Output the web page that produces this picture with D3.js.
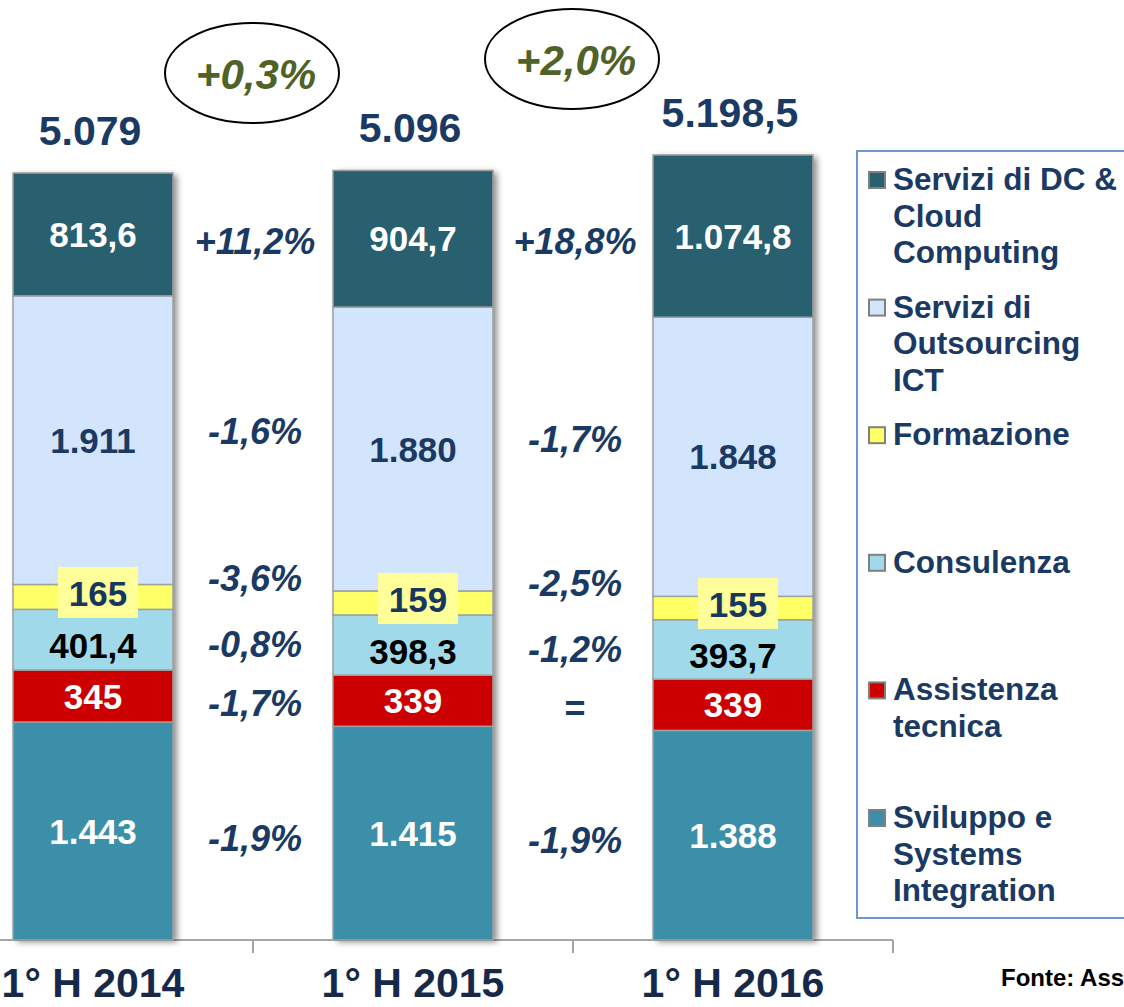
<!DOCTYPE html>
<html>
<head>
<meta charset="utf-8">
<script src="https://cdn.jsdelivr.net/npm/d3@7"></script>
<style>
  body { margin: 0; background: #fff; overflow: hidden; }
  svg { display: block; font-family: "Liberation Sans", Arial, sans-serif; }
</style>
</head>
<body>
<script>
var w = 1124;
var h = 1007;

// dati (milioni di euro)
var periodi = ["1° H 2014", "1° H 2015", "1° H 2016"];
var serie = ["Sviluppo e Systems Integration", "Assistenza tecnica", "Consulenza",
             "Formazione", "Servizi di Outsourcing ICT", "Servizi di DC & Cloud Computing"];
var sviluppo    = [1443, 1415, 1388];
var assistenza  = [345, 339, 339];
var consulenza  = [401.4, 398.3, 393.7];
var formazione  = [165, 159, 155];
var outsourcing = [1911, 1880, 1848];
var dcCloud     = [813.6, 904.7, 1074.8];
var totali      = [5079, 5096, 5198.5];
var etichetteTot = ["5.079", "5.096", "5.198,5"];
var etichette = [
  ["1.443", "1.415", "1.388"],
  ["345", "339", "339"],
  ["401,4", "398,3", "393,7"],
  ["165", "159", "155"],
  ["1.911", "1.880", "1.848"],
  ["813,6", "904,7", "1.074,8"]
];
// variazioni tra un semestre e l'altro, per serie (dal basso)
var var1415 = ["-1,9%", "-1,7%", "-0,8%", "-3,6%", "-1,6%", "+11,2%"];
var var1516 = ["-1,9%", "=", "-1,2%", "-2,5%", "-1,7%", "+18,8%"];
var varTotali = ["+0,3%", "+2,0%"];
var legenda = [
  ["Servizi di DC &", "Cloud", "Computing"],
  ["Servizi di", "Outsourcing", "ICT"],
  ["Formazione"],
  ["Consulenza"],
  ["Assistenza", "tecnica"],
  ["Sviluppo e", "Systems", "Integration"]
];

var colori = ["#3B8FA8", "#CC0000", "#9FD9EA", "#FFFF66", "#D3E5FC", "#28606F"];
var coloriTesto = ["#fff", "#fff", "#000", "#17375E", "#1B3A63", "#fff"];
var navy = "#1B3A63";
// piccoli spostamenti verticali delle variazioni (layout)
var nudge = [6, 5, 2, -22, -14, 4];

var valori = [sviluppo, assistenza, consulenza, formazione, outsourcing, dcCloud];

var svg = d3.select("body").append("svg")
    .attr("width", w)
    .attr("height", h);

var defs = svg.append("defs");
var f = defs.append("filter").attr("id", "ombra")
    .attr("x", "-10%").attr("y", "-10%").attr("width", "130%").attr("height", "130%");
f.append("feDropShadow").attr("dx", 4).attr("dy", 2).attr("stdDeviation", 3)
    .attr("flood-color", "#000").attr("flood-opacity", 0.45);

var x = d3.scaleBand().domain(periodi).range([-67, 893]).paddingInner(0.5).paddingOuter(0.25);
var y = d3.scaleLinear().domain([0, 5079]).range([940, 173]);

// stack
var righe = periodi.map(function(p, i) {
  var o = { periodo: p };
  serie.forEach(function(s, k) { o[s] = valori[k][i]; });
  return o;
});
var stack = d3.stack().keys(serie)(righe);

// asse x
svg.append("line").attr("x1", 0).attr("x2", 893).attr("y1", 940).attr("y2", 940)
    .attr("stroke", "#A6A6A6").attr("stroke-width", 2);
[253, 573, 893].forEach(function(t) {
  svg.append("line").attr("x1", t).attr("x2", t).attr("y1", 940).attr("y2", 953)
      .attr("stroke", "#A6A6A6").attr("stroke-width", 2);
});

// barre con ombra
var gBarre = svg.append("g");
periodi.forEach(function(p, i) {
  gBarre.append("rect")
      .attr("x", x(p)).attr("width", x.bandwidth())
      .attr("y", y(totali[i])).attr("height", y(0) - y(totali[i]))
      .attr("fill", "#fff").attr("filter", "url(#ombra)");
});
stack.forEach(function(layer, k) {
  gBarre.selectAll(null).data(layer).enter().append("rect")
      .attr("x", function(d) { return x(d.data.periodo); })
      .attr("width", x.bandwidth())
      .attr("y", function(d) { return y(d[1]); })
      .attr("height", function(d) { return y(d[0]) - y(d[1]); })
      .attr("fill", colori[k])
      .attr("stroke", "#A0A0A0").attr("stroke-width", 1.5);
});

// etichette dei segmenti
stack.forEach(function(layer, k) {
  layer.forEach(function(d, i) {
    var cx = x(d.data.periodo) + x.bandwidth() / 2;
    var cy = (y(d[0]) + y(d[1])) / 2;
    if (k === 3) {
      cx += 5; cy -= 4;
      svg.append("rect").attr("x", cx - 40).attr("y", cy - 26).attr("width", 80).attr("height", 51)
          .attr("fill", "#FFFF99");
    }
    if (k === 2) cy += 6;
    svg.append("text").attr("x", cx).attr("y", cy).attr("dy", "0.36em")
        .attr("text-anchor", "middle").attr("font-weight", "bold")
        .attr("font-size", 35).attr("fill", coloriTesto[k])
        .text(etichette[k][i]);
  });
});

// totali
periodi.forEach(function(p, i) {
  svg.append("text").attr("x", x(p) + x.bandwidth() / 2 - 3).attr("y", y(totali[i]) - 28)
      .attr("text-anchor", "middle").attr("font-weight", "bold").attr("font-size", 41)
      .attr("fill", navy).text(etichetteTot[i]);
});

// variazioni tra le barre
[var1415, var1516].forEach(function(col, c) {
  var cx = (x(periodi[c]) + x.bandwidth() + x(periodi[c + 1])) / 2 + 2;
  stack.forEach(function(layer, k) {
    var m1 = (y(layer[c][0]) + y(layer[c][1])) / 2;
    var m2 = (y(layer[c + 1][0]) + y(layer[c + 1][1])) / 2;
    svg.append("text").attr("x", cx).attr("y", (m1 + m2) / 2 + nudge[k]).attr("dy", "0.36em")
        .attr("text-anchor", "middle").attr("font-weight", "bold")
        .attr("font-style", col[k] === "=" ? "normal" : "italic")
        .attr("font-size", 36).attr("fill", navy).text(col[k]);
  });
});

// ellissi con variazione totale
varTotali.forEach(function(t, c) {
  var cx = (x(periodi[c]) + x.bandwidth() + x(periodi[c + 1])) / 2 - 1;
  var cy = 73 - c * 14;
  svg.append("ellipse").attr("cx", cx).attr("cy", cy).attr("rx", 87).attr("ry", 50)
      .attr("fill", "none").attr("stroke", "#000").attr("stroke-width", 2);
  svg.append("text").attr("x", cx + 4).attr("y", cy + 16)
      .attr("text-anchor", "middle").attr("font-weight", "bold").attr("font-style", "italic")
      .attr("font-size", 42).attr("fill", "#4F6228").text(t);
});

// etichette asse x
periodi.forEach(function(p) {
  svg.append("text").attr("x", x(p) + x.bandwidth() / 2).attr("y", 997)
      .attr("text-anchor", "middle").attr("font-weight", "bold").attr("font-size", 41)
      .attr("fill", "#17294A").text(p);
});

// legenda
svg.append("rect").attr("x", 857).attr("y", 151).attr("width", 300).attr("height", 767)
    .attr("fill", "#fff").attr("stroke", "#7096CC").attr("stroke-width", 2);
var coloriLeg = colori.slice().reverse();
legenda.forEach(function(righeLeg, k) {
  var by = 190 + k * 127.6;
  svg.append("rect").attr("x", 869).attr("y", by - 18).attr("width", 16).attr("height", 16)
      .attr("fill", coloriLeg[k]).attr("stroke", "#808080").attr("stroke-width", 2);
  righeLeg.forEach(function(r, j) {
    svg.append("text").attr("x", 893).attr("y", by + j * 36.5)
        .attr("font-weight", "bold").attr("font-size", 31.5).attr("fill", navy).text(r);
  });
});

// fonte
svg.append("text").attr("x", 1001).attr("y", 986)
    .attr("font-weight", "bold").attr("font-size", 24).attr("fill", "#000")
    .text("Fonte: Assinform / NetConsulting");
</script>
</body>
</html>
